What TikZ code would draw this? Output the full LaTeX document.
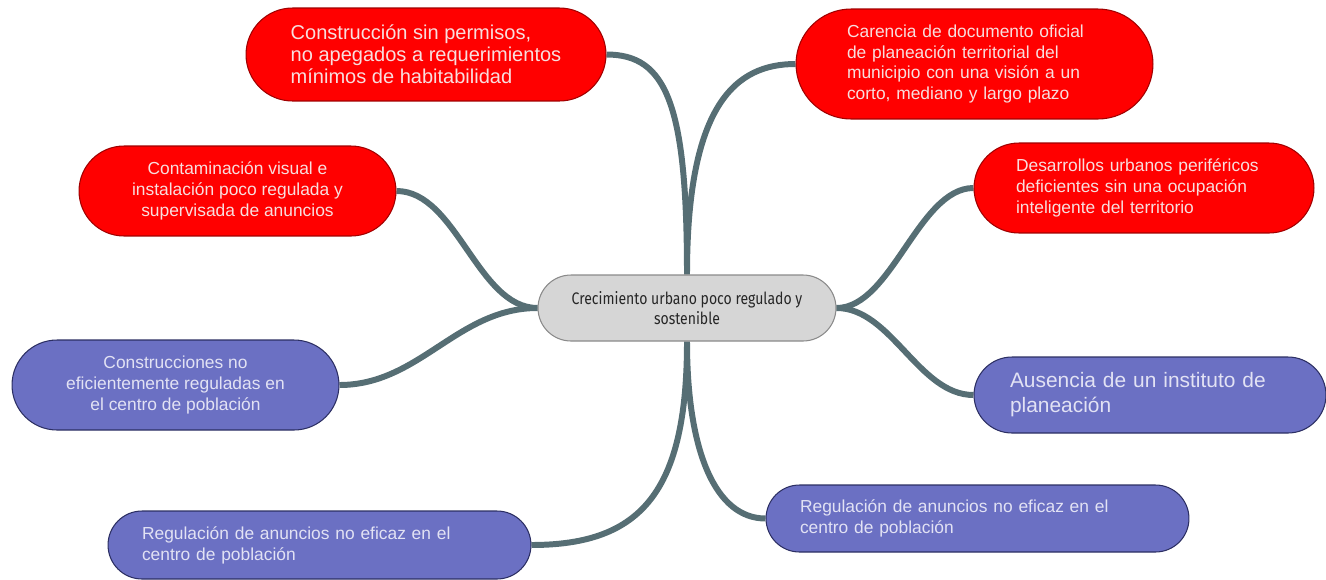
\documentclass[tikz,border=0pt]{standalone}
\usepackage{fontspec}
\setmainfont{Liberation Sans}
\newfontfamily\condfont[FakeStretch=0.84]{Fira Sans}
\usetikzlibrary{backgrounds}
\definecolor{causered}{HTML}{FF0000}
\definecolor{redline}{HTML}{A00000}
\definecolor{redtext}{HTML}{F8DEDE}
\definecolor{effectblue}{HTML}{6B70C3}
\definecolor{blueline}{HTML}{2C2F63}
\definecolor{bluetext}{HTML}{E2E2F4}
\definecolor{corefill}{HTML}{D6D6D6}
\definecolor{coreline}{HTML}{8A8A8A}
\definecolor{linkgray}{HTML}{566E74}

\begin{document}
\begin{tikzpicture}[x=0.02cm,y=-0.02cm,
    box/.style={draw, line width=0.6pt, inner ysep=0pt},
    redbox/.style={box, fill=causered, draw=redline, text=redtext},
    bluebox/.style={box, fill=effectblue, draw=blueline, text=bluetext},
    small/.style={font=\fontsize{9.9pt}{11.9pt}\selectfont},
    big/.style={font=\fontsize{11.4pt}{12.6pt}\selectfont},
    link/.style={draw=linkgray, line width=3.4pt}]
      \path[use as bounding box] (0,0) rectangle (1326,579);

      % center
      \node[box, fill=corefill, draw=coreline, text=black!85, rounded corners=0.66cm,
            minimum width=5.96cm, minimum height=1.32cm, align=center,
            font=\condfont\fontsize{9.5pt}{11.2pt}\selectfont] (core) at (687,308)
            {Crecimiento urbano poco regulado y\\sostenible};

      % causes
      \node[redbox, big, rounded corners=0.93cm, minimum height=1.86cm,
            minimum width=7.2cm, align=left] (permisos) at (426,54.5)
            {Construcción sin permisos,\\no apegados a requerimientos\\mínimos de habitabilidad};
      \node[redbox, small, rounded corners=1.1cm, minimum height=2.2cm,
            text width=5.1cm, inner xsep=1.02cm, align=left] (documento) at (974.5,64)
            {Carencia de documento oficial\\de planeación territorial del\\municipio con una visión a un\\corto, mediano y largo plazo};
      \node[redbox, small, rounded corners=0.9cm, minimum height=1.8cm,
            text width=5.12cm, inner xsep=0.84cm, align=left] (periferia) at (1144,188)
            {Desarrollos urbanos periféricos\\deficientes sin una ocupación\\inteligente del territorio};
      \node[redbox, small, rounded corners=0.9cm, minimum height=1.8cm,
            minimum width=6.34cm, align=center] (visual) at (237.5,191)
            {Contaminación visual e\\instalación poco regulada y\\supervisada de anuncios};

      % effects
      \node[bluebox, small, rounded corners=0.9cm, minimum height=1.8cm,
            minimum width=6.54cm, align=center] (centro) at (175.5,385)
            {Construcciones no\\eficientemente reguladas en\\el centro de población};
      \node[bluebox, font=\fontsize{11.9pt}{14.2pt}\selectfont, rounded corners=0.76cm,
            minimum height=1.52cm, text width=5.6cm, inner xsep=0.72cm, align=left] (instituto) at (1150,395)
            {Ausencia de un instituto de\\planeación};
      \node[bluebox, small, rounded corners=0.67cm, minimum height=1.34cm,
            text width=7.1cm, inner xsep=0.68cm, align=left] (anunciosder) at (977.5,518.5)
            {Regulación de anuncios no eficaz en el\\centro de población};
      \node[bluebox, small, rounded corners=0.68cm, minimum height=1.36cm,
            text width=7.1cm, inner xsep=0.68cm, align=left] (anunciosizq) at (319.5,545)
            {Regulación de anuncios no eficaz en el\\centro de población};

      % branches
      \begin{scope}[on background layer]
        \draw[link] (core.north) .. controls +(0,-170) and +(60,0) .. (permisos.east);
        \draw[link] (core.north) .. controls +(0,-170) and +(-60,0) .. (documento.west);
        \draw[link] (core.west) .. controls +(-60,0) and +(60,0) .. (visual.east);
        \draw[link] (core.west) .. controls +(-80,0) and +(80,0) .. (centro.east);
        \draw[link] (core.east) .. controls +(55,0) and +(-55,0) .. (periferia.west);
        \draw[link] (core.east) .. controls +(55,0) and +(-55,0) .. (instituto.west);
        \draw[link] (core.south) .. controls +(0,150) and +(110,0) .. (anunciosizq.east);
        \draw[link] (core.south) .. controls +(0,110) and +(-50,0) .. (anunciosder.west);
      \end{scope}
    \end{tikzpicture}
\end{document}
